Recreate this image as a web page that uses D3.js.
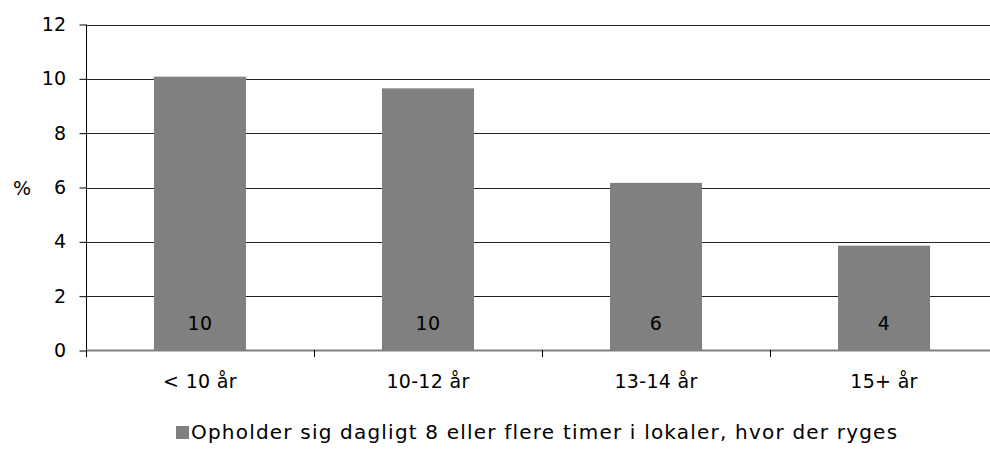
<!DOCTYPE html>
<html>
<head>
<meta charset="utf-8">
<script src="https://cdn.jsdelivr.net/npm/d3@7"></script>
<style>
  html, body { margin: 0; padding: 0; background: #fff; }
  svg { display: block; font-family: "DejaVu Sans", Verdana, sans-serif; }
</style>
</head>
<body>
<svg id="chart" width="990" height="457"></svg>
<script>
const categories = ["< 10 år", "10-12 år", "13-14 år", "15+ år"];
const values = [10.08, 9.65, 6.17, 3.86];
const valueLabels = ["10", "10", "6", "4"];
const yTicks = [0, 2, 4, 6, 8, 10, 12];
const seriesName = "Opholder sig dagligt 8 eller flere timer i lokaler, hvor der ryges";
const yAxisTitle = "%";

const svg = d3.select("#chart");
const fontSize = 19;
const ls = 0.3;
const barColor = "#808080";

const x = d3.scaleBand().domain(categories).range([86, 998]).paddingInner(0.5965).paddingOuter(0.298);
const y = d3.scaleLinear().domain([0, 12]).range([350.5, 24.5]);

// gridlines
svg.append("g").selectAll("line").data(yTicks.filter(d => d > 0)).join("line")
  .attr("x1", 86).attr("x2", 990)
  .attr("y1", d => Math.round(y(d)) + 0.5).attr("y2", d => Math.round(y(d)) + 0.5)
  .attr("stroke", "#222").attr("stroke-width", 1);

// bars
svg.append("g").selectAll("rect").data(values).join("rect")
  .attr("x", (d, i) => x(categories[i]))
  .attr("width", x.bandwidth())
  .attr("y", d => y(d))
  .attr("height", d => y(0) - y(d))
  .attr("fill", barColor);

// value labels
svg.append("g").selectAll("text").data(valueLabels).join("text")
  .attr("x", (d, i) => x(categories[i]) + x.bandwidth() / 2)
  .attr("y", 330)
  .attr("text-anchor", "middle")
  .attr("font-size", fontSize)
  .attr("letter-spacing", ls)
  .attr("fill", "#000")
  .text(d => d);

// y axis
const yAxis = d3.axisLeft(y).tickValues(yTicks).tickSize(7).tickPadding(13).tickFormat(d3.format("d"));
const gy = svg.append("g").attr("transform", "translate(86.5,0)").call(yAxis);
gy.select(".domain").remove();
gy.selectAll(".tick line").attr("stroke", "#000");
gy.selectAll(".tick text").attr("font-size", fontSize).attr("font-family", "DejaVu Sans")
  .attr("letter-spacing", ls).attr("fill", "#000");
svg.append("line").attr("x1", 86.5).attr("x2", 86.5).attr("y1", y(12)).attr("y2", 357).attr("stroke", "#000");

// x axis
svg.append("line").attr("x1", 86).attr("x2", 990).attr("y1", 350.5).attr("y2", 350.5)
  .attr("stroke", "#808080").attr("stroke-width", 2);
const xTickPos = d3.range(categories.length + 1).map(i => 86 + i * x.step());
svg.append("g").selectAll("line").data(xTickPos).join("line")
  .attr("x1", d => Math.round(d) + 0.5).attr("x2", d => Math.round(d) + 0.5)
  .attr("y1", 350).attr("y2", 357).attr("stroke", "#000");
svg.append("g").selectAll("text").data(categories).join("text")
  .attr("x", d => x(d) + x.bandwidth() / 2)
  .attr("y", 388)
  .attr("text-anchor", "middle")
  .attr("font-size", fontSize)
  .attr("letter-spacing", ls)
  .attr("fill", "#000")
  .text(d => d);

// y title
svg.append("text").attr("x", 22).attr("y", 195).attr("text-anchor", "middle")
  .attr("font-size", fontSize).attr("fill", "#000").text(yAxisTitle);

// legend
svg.append("rect").attr("x", 176).attr("y", 426).attr("width", 13).attr("height", 13).attr("fill", barColor);
svg.append("text").attr("x", 191).attr("y", 439).attr("font-size", 20)
  .attr("letter-spacing", 1.2).attr("fill", "#000").text(seriesName);
</script>
</body>
</html>
